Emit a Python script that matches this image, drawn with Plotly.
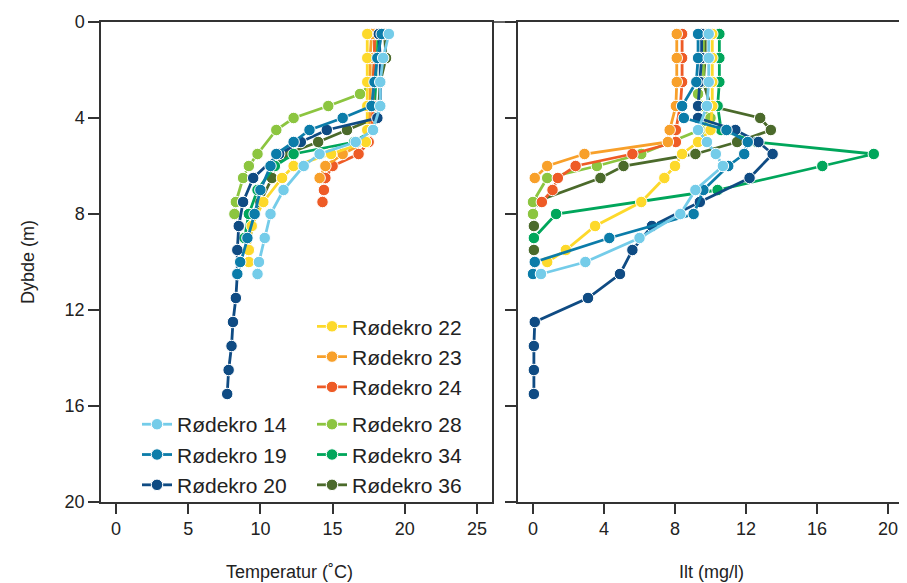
import plotly.graph_objects as go

# ---------------- data ----------------
names = ["Rødekro 14", "Rødekro 19", "Rødekro 20", "Rødekro 22", "Rødekro 23",
         "Rødekro 24", "Rødekro 28", "Rødekro 34", "Rødekro 36"]

depth_14 = [0.5, 1.5, 2.5, 3.5, 4.5, 5.0, 5.5, 6.0, 7.0, 8.0, 9.0, 10.0, 10.5]
temp_14 = [18.9, 18.5, 18.3, 18.3, 17.8, 16.6, 14.1, 13.0, 11.6, 10.7, 10.3, 9.9, 9.8]
oxy_14 = [9.9, 9.9, 9.9, 9.8, 9.3, 9.8, 10.3, 10.7, 9.15, 8.3, 6.0, 2.95, 0.45]

depth_19 = [0.5, 1.5, 2.5, 3.5, 4.0, 4.5, 5.0, 5.5, 6.0, 7.0, 8.0, 9.0, 10.0, 10.5]
temp_19 = [18.4, 18.1, 17.9, 17.7, 15.7, 13.4, 12.3, 11.1, 10.7, 10.0, 9.6, 9.1, 8.6, 8.4]
oxy_19 = [9.3, 9.3, 9.2, 8.4, 8.5, 10.9, 12.1, 11.9, 11.0, 9.6, 9.05, 4.3, 0.1, 0.0]

depth_20 = [0.5, 1.5, 2.5, 3.5, 4.0, 4.5, 5.0, 5.5, 6.5, 7.5, 8.5, 9.5, 10.5, 11.5,
            12.5, 13.5, 14.5, 15.5]
temp_20 = [18.2, 18.3, 18.3, 18.3, 18.1, 14.6, 12.8, 11.3, 9.5, 8.8, 8.5, 8.4, 8.4, 8.3,
           8.1, 8.0, 7.8, 7.7]
oxy_20 = [9.5, 9.5, 9.4, 9.3, 9.3, 11.4, 12.7, 13.5, 12.2, 9.4, 6.7, 5.6, 4.9, 3.1,
          0.1, 0.05, 0.05, 0.05]

depth_22 = [0.5, 1.5, 2.5, 3.5, 4.5, 5.0, 5.5, 6.0, 6.5, 7.5, 8.5, 9.5, 10.0]
temp_22 = [17.4, 17.4, 17.4, 17.4, 17.4, 17.3, 14.9, 12.3, 11.5, 10.2, 9.4, 9.2, 9.2]
oxy_22 = [10.1, 10.1, 10.1, 10.1, 10.0, 9.3, 8.4, 8.0, 7.4, 6.1, 3.5, 1.85, 0.8]

depth_23 = [0.5, 1.5, 2.5, 3.5, 4.5, 5.0, 5.5, 6.0, 6.5]
temp_23 = [17.7, 17.6, 17.6, 17.6, 17.5, 17.3, 15.7, 14.5, 14.1]
oxy_23 = [8.1, 8.1, 8.1, 8.05, 7.7, 7.6, 2.9, 0.8, 0.1]

depth_24 = [0.5, 1.5, 2.5, 3.5, 4.5, 5.0, 5.5, 6.0, 6.5, 7.0, 7.5]
temp_24 = [17.9, 17.9, 17.8, 17.8, 17.7, 17.5, 16.8, 15.0, 14.5, 14.4, 14.3]
oxy_24 = [8.4, 8.4, 8.4, 8.3, 8.05, 8.05, 5.6, 2.4, 1.4, 1.1, 0.5]

depth_28 = [0.5, 1.5, 2.5, 3.0, 3.5, 4.0, 4.5, 5.5, 6.0, 6.5, 7.5, 8.0]
temp_28 = [18.0, 17.9, 17.8, 16.9, 14.7, 12.3, 11.1, 9.8, 9.2, 8.8, 8.3, 8.2]
oxy_28 = [9.6, 9.6, 9.6, 9.3, 9.5, 10.0, 9.4, 6.1, 3.6, 0.8, 0.0, 0.0]

depth_34 = [0.5, 1.5, 2.5, 3.5, 4.5, 5.0, 5.5, 6.0, 7.0, 8.0, 9.0]
temp_34 = [18.1, 18.0, 18.0, 17.9, 17.8, 16.5, 12.3, 11.0, 9.8, 9.2, 8.9]
oxy_34 = [10.5, 10.5, 10.5, 10.4, 10.6, 12.6, 19.2, 16.3, 10.4, 1.3, 0.05]

depth_36 = [0.5, 1.5, 2.5, 3.5, 4.0, 4.5, 5.0, 5.5, 6.0, 6.5, 7.5, 8.5, 9.5]
temp_36 = [18.6, 18.7, 18.3, 18.2, 18.0, 16.0, 14.0, 11.8, 11.0, 10.8, 10.0, 9.4, 9.2]
oxy_36 = [9.7, 9.7, 9.6, 10.0, 12.8, 13.4, 11.5, 9.15, 5.1, 3.8, 0.1, 0.05, 0.05]

depths = [depth_14, depth_19, depth_20, depth_22, depth_23, depth_24, depth_28, depth_34, depth_36]
temps = [temp_14, temp_19, temp_20, temp_22, temp_23, temp_24, temp_28, temp_34, temp_36]
oxys = [oxy_14, oxy_19, oxy_20, oxy_22, oxy_23, oxy_24, oxy_28, oxy_34, oxy_36]

colors = ["#74CCE9", "#0B7CA9", "#0F4B83", "#FDD92B", "#F8A02A",
          "#EE5B26", "#8CC540", "#00A65B", "#4B6A2B"]
legend_of = ["legend", "legend", "legend", "legend2", "legend2", "legend2",
             "legend3", "legend3", "legend3"]

temp_ticks = [0, 5, 10, 15, 20, 25]
oxy_ticks = [0, 4, 8, 12, 16, 20]
depth_ticks = [0, 4, 8, 12, 16, 20]

# ---------------- figure ----------------
FONT = "Arial, Liberation Sans, sans-serif"
AX = "#333333"
fig = go.Figure()

draw_order = [8, 7, 6, 5, 4, 3, 2, 1, 0]
for i in draw_order:
    common = dict(
        mode="lines+markers",
        line=dict(color=colors[i], width=2.8),
        marker=dict(color=colors[i], size=11.5, line=dict(color="white", width=1)),
        name=names[i],
    )
    fig.add_trace(go.Scatter(x=temps[i], y=depths[i], xaxis="x", yaxis="y",
                             showlegend=True, legend=legend_of[i],
                             legendgroup=names[i], legendrank=i + 1, **common))
    fig.add_trace(go.Scatter(x=oxys[i], y=depths[i], xaxis="x2", yaxis="y2",
                             showlegend=False, legendgroup=names[i], **common))

PW = 798  # plot-area width in px
d1 = 391 / PW
d2 = 417 / PW
axis_common = dict(showgrid=False, zeroline=False, showline=True, linecolor=AX,
                   linewidth=1.5, ticks="outside", tickcolor=AX, tickwidth=1.5,
                   automargin=False, ticklabeloverflow="allow",
                   tickfont=dict(family=FONT, size=18, color="#222"))

legend_common = dict(bgcolor="rgba(0,0,0,0)", font=dict(family=FONT, size=21, color="#222"),
                     tracegroupgap=0, xanchor="left", yanchor="top", itemwidth=30)

title_font = dict(family=FONT, size=18, color="#222")
annotations = [
    dict(text="Temperatur (˚C)", xref="paper", yref="paper", x=(289 - 101) / PW,
         y=-(572 - 502) / 480, xanchor="center", yanchor="middle", showarrow=False,
         font=title_font),
    dict(text="Ilt (mg/l)", xref="paper", yref="paper", x=(711 - 101) / PW,
         y=-(572 - 502) / 480, xanchor="center", yanchor="middle", showarrow=False,
         font=title_font),
    dict(text="Dybde (m)", xref="paper", yref="paper", x=-(101 - 28) / PW,
         y=1 - (262 - 22) / 480, xanchor="center", yanchor="middle", showarrow=False,
         textangle=-90, font=title_font),
]

# the page body adds an 8px offset, so the figure is smaller and margins compensate
fig.update_layout(
    width=891, height=575,
    margin=dict(l=93, r=0, t=14, b=81),
    paper_bgcolor="white", plot_bgcolor="white",
    font=dict(family=FONT, color="#222"),
    xaxis=dict(domain=[0, d1], range=[-1.04, 26.04], tickvals=temp_ticks, ticklen=10,
               mirror=True, anchor="y", **axis_common),
    yaxis=dict(domain=[0, 1], range=[20, 0], tickvals=depth_ticks, ticklen=11,
               mirror=True, anchor="x", **axis_common),
    xaxis2=dict(domain=[d2, 1], range=[-0.845, 20.62], tickvals=oxy_ticks, ticklen=10,
                mirror=True, anchor="y2", **axis_common),
    yaxis2=dict(domain=[0, 1], range=[20, 0], tickvals=depth_ticks, ticklen=11,
                showticklabels=False, mirror=False, anchor="x2", **axis_common),
    legend=dict(x=36 / PW, y=0.204, **legend_common),
    legend2=dict(x=211 / PW, y=0.408, **legend_common),
    legend3=dict(x=211 / PW, y=0.204, **legend_common),
    annotations=annotations,
    shapes=[dict(type="line", xref="paper", yref="paper", x0=d1, x1=d2, y0=1, y1=1,
                 line=dict(color=AX, width=1.5))],
)

fig.write_html("out.html")
